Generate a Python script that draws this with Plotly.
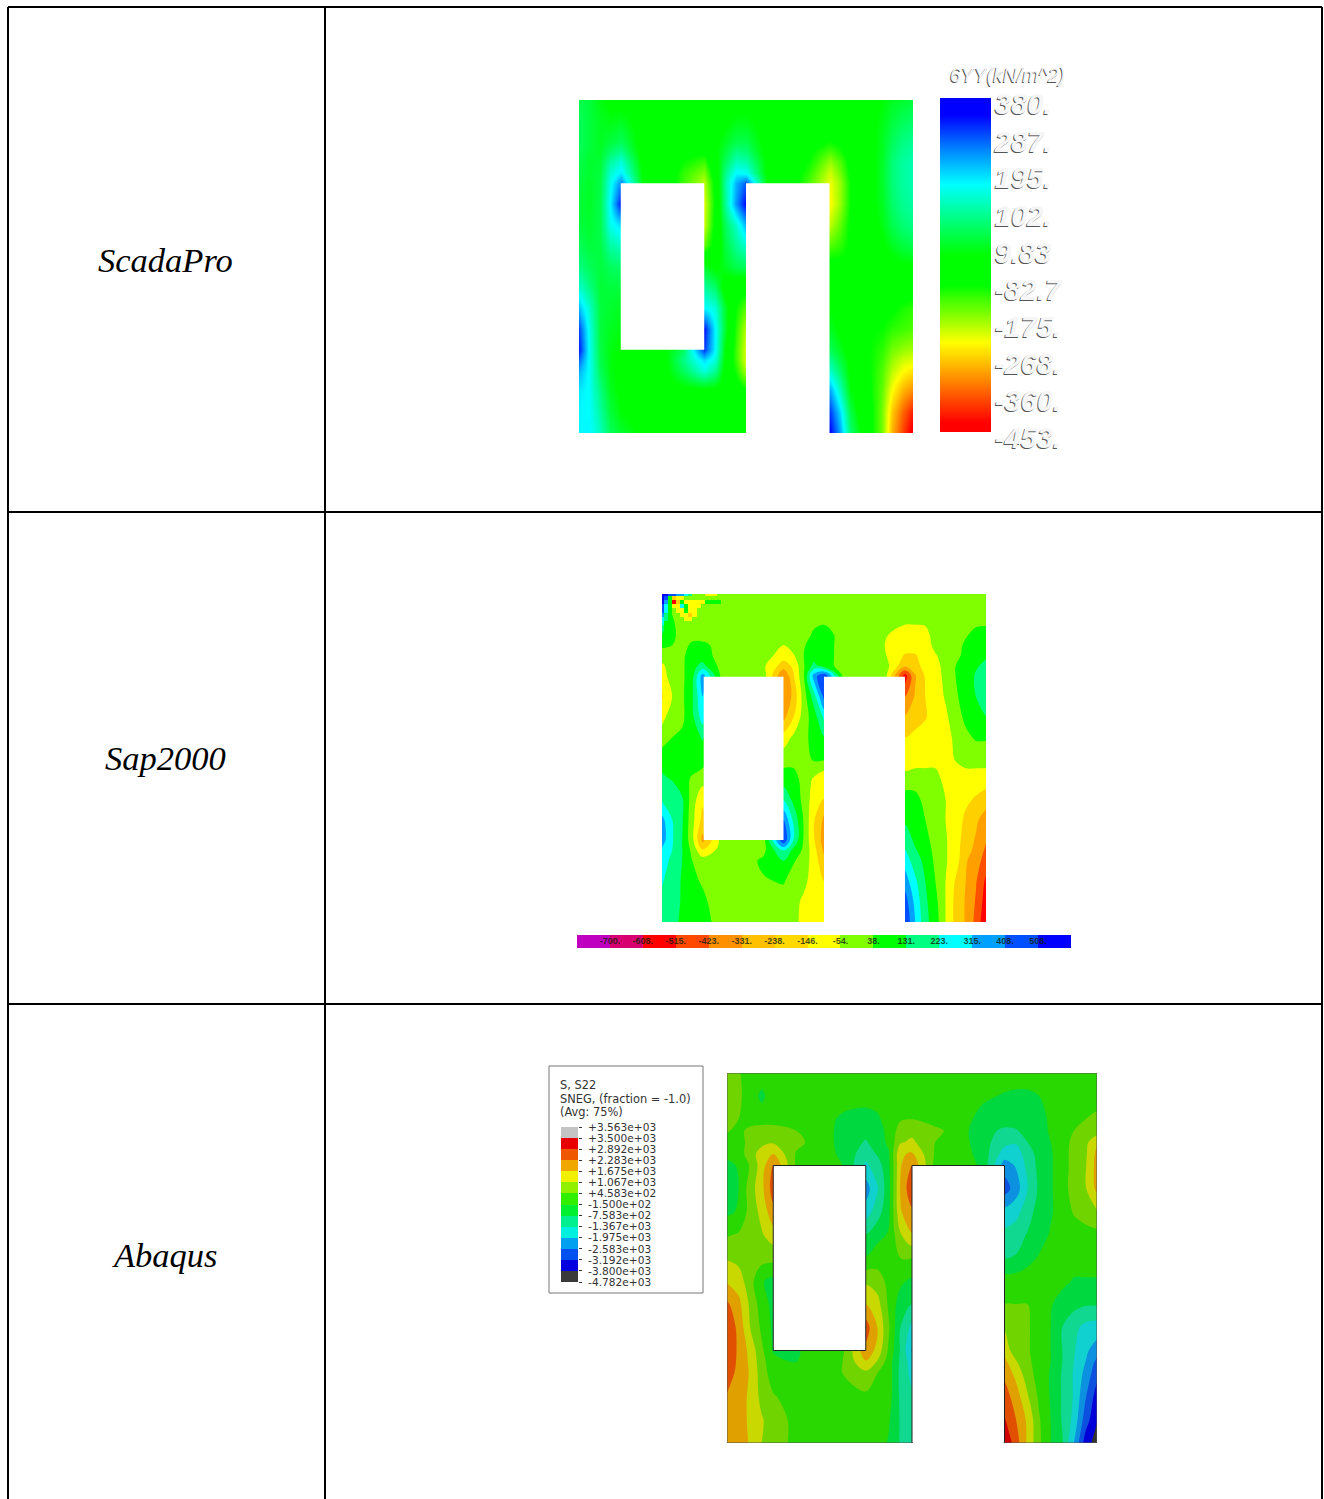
import plotly.graph_objects as go

W, H = 1324, 1499

# wall grid, in eighths of the wall width / height
GRID_U = [0,.25,.5,.75,1, 1.5,2,2.5, 3,3.25,3.5,3.75,4, 4.5,5,5.5, 6,6.25,6.5,6.75,7,7.25,7.5,7.75,8]
GRID_V = [0,.5,1,1.25,1.5,1.75,2,2.5,3,3.5,4,4.5,5,5.5,6,6.25,6.5,7,7.5,8]

ROW_NAMES = ["ScadaPro", "Sap2000", "Abaqus"]

# ---- ScadaPro: stress field, kN/m^2 ----
SCADA_Z = [
 [40,30,0,-20,-30, -30,-30,-30, -30,-30,-30,-30,-30, -30,-30,-30, -30,-40,-40,-30,-20,-10,10,20,30],
 [50,30,10,0,10, -30,-40,-40, -40,-30,-20,0,0, -30,-40,-40, -50,-50,-40,-30,-20,0,30,50,60],
 [50,30,10,30,50, -30,-40,-50, -50,-20,10,40,40, -30,-40,-60, -90,-80,-50,-30,-20,10,50,80,90],
 [45,25,15,60,90, -30,-40,-70, -80,-20,30,80,70, -30,-40,-80, -130,-100,-60,-30,-20,10,60,90,100],
 [40,20,25,100,140, -20,-40,-90, -120,-30,50,120,110, -20,-40,-90, -170,-130,-70,-30,-20,15,70,100,110],
 [35,20,30,130,180, -10,-40,-110, -160,-50,80,170,160, -20,-50,-110, -200,-150,-80,-40,-20,15,70,100,110],
 [30,15,35,150,250, 0,-40,-120, -190,-70,100,220,280, -10,-50,-130, -220,-170,-90,-40,-20,15,70,100,110],
 [25,15,40,170,330, -40,-40,-40, -210,-80,90,240,340, -40,-40,-40, -230,-170,-90,-40,-20,10,60,90,100],
 [30,20,40,150,190, -40,-40,-40, -200,-70,50,130,220, -40,-40,-40, -190,-140,-80,-40,-30,0,40,70,80],
 [50,30,35,100,120, -40,-40,-40, -140,-60,30,90,130, -40,-40,-40, -130,-110,-80,-50,-40,-20,10,30,40],
 [80,50,30,50,60, -40,-40,-40, 20,-20,10,40,50, -40,-40,-40, -60,-70,-70,-60,-50,-40,-30,-20,-20],
 [130,80,25,30,30, -40,-40,-40, 100,60,-40,-50,-70, -40,-40,-40, -30,-40,-60,-70,-60,-60,-50,-50,-60],
 [210,130,30,20,10, -40,-40,-40, 170,140,20,-90,-140, -40,-40,-40, -10,-30,-50,-70,-70,-70,-80,-100,-110],
 [290,150,30,10,0, -40,-40,-40, 330,170,20,-110,-190, -40,-40,-40, 10,-20,-50,-70,-80,-90,-110,-120,-130],
 [320,160,35,0,-20, -30,-20,50, 300,170,-10,-120,-210, -40,-40,-40, 50,10,-30,-70,-90,-110,-150,-170,-180],
 [270,160,40,0,-20, -30,-30,80, 190,140,-20,-120,-210, -40,-40,-40, 90,30,-20,-60,-90,-120,-170,-200,-210],
 [220,160,50,0,-20, -30,-30,50, 140,90,-30,-100,-180, -40,-40,-40, 130,60,-20,-60,-90,-130,-190,-230,-250],
 [180,160,80,10,-20, -30,-40,-30, -30,-30,-40,-60,-80, -40,-40,-40, 230,120,0,-50,-90,-140,-230,-290,-320],
 [170,165,100,30,-10, -30,-40,-40, -40,-40,-40,-40,-40, -40,-40,-40, 300,190,40,-40,-80,-150,-270,-350,-410],
 [170,170,120,50,20, -20,-40,-40, -40,-40,-40,-40,-40, -40,-40,-40, 340,230,70,-10,-80,-150,-290,-380,-453],
]
SCADA_TICKS = [380, 287, 195, 102, 9.83, -82.7, -175, -268, -360, -453]
SCADA_TICK_TEXT = ["380.", "287.", "195.", "102.", "9.83", "-82.7", "-175.", "-268.", "-360.", "-453."]
SCADA_BAR_LEVELS = [-453,-420,-380,-340,-300,-260,-228,-190,-150,-120,-86,-50,-11,40,90,130,166,220,280,330,368,380]
SCADA_TITLE = "6YY(kN/m^2)"
SCADA_SCALE = [[0,"#ff0000"],[.03,"#ff0000"],[.15,"#ff8000"],[.27,"#ffff00"],[.44,"#00ff00"],[.53,"#00ff00"],
               [.743,"#00ffff"],[.85,"#0080ff"],[.95,"#0000ff"],[1,"#0000ff"]]
SCADA_HOLES = [(1.0,3.0,2.0,6.0),(4.0,6.0,2.0,8.0)]

# ---- Sap2000: contour band index per grid node ----
SAP_Z = [
 [6,6,6,6,6, 6,6,6, 6,6,6,6,6, 6,6,6, 6,6,6,6,6,6,6,6,6],
 [3,5.5,6,6,6, 6,6,6, 6,6,6,6,6, 6,6,6, 6,6,6,6,6,6,6,6,6],
 [4.5,5.2,6,6,6, 6,6,6, 6,6,6,5.3,5, 6,6,6.4, 7,7,6.9,6,6,6,5.6,5.2,5.1],
 [5.3,5.5,6,5.2,5.2, 6,6,6, 6.5,6,5.6,5,5, 6,6,6.5, 7,7,7,6.2,6,5.9,5.3,5,5],
 [6,6,5.7,5,5, 6,6,6, 7,6.6,5.5,5,5, 6,6,6.4, 7.6,7.6,7,6.6,6,5.8,5.2,4.8,4.6],
 [6.7,6,5.7,4.8,4.2, 6,6,6.3, 8,7.3,5.6,4.2,5, 6,6,6, 8.3,8,7,7,6,5.5,5,4.6,4.3],
 [7,6,5.7,4.8,2, 6,6,6, 9.5,7.6,5.6,2,.5, 6,6,6, 11,8.6,7.4,7,6.2,5.5,5,4.4,3.9],
 [7.6,6.5,5.7,4.6,2.5, 6,6,6, 9.5,8.2,6,4,1.2, 6,6,6, 9.5,8.4,7.5,7,6.4,5.6,5.2,4.5,4],
 [6.8,6,5.7,4.7,3, 6,6,6, 8.8,7.5,6,5,3.3, 6,6,6, 8.4,8,7.6,7,6.7,5.9,5.3,5,4.5],
 [6,5.5,5.3,5,4.4, 6,6,6, 7,6.3,5.9,5,4.6, 6,6,6, 7.5,7.2,7,7,7,6.2,5.7,5.4,5.4],
 [5,5,5,5,5, 6,6,6, 6,6,6,5.3,5.3, 6,6,6, 7,7,7,7,7,6.4,6,6,6],
 [4.3,4.6,5.2,5.6,6, 6,6,6, 5,5,6,6.6,7.2, 6,6,6, 6.2,6,6,6,7,7,7,7,7],
 [3.7,3.7,4.4,6,7.3, 6,6,6, 3.7,4.8,5.8,7,7.5, 6,6,6, 5,5.2,5.8,6,6.5,7,7.3,7.6,8],
 [2.2,3.5,4.4,6.2,7.8, 6,6,6, 1.5,3.8,5.6,7.4,8.7, 6,6,6, 4.7,5,5.5,6,6.5,7,7.7,8.3,9],
 [2,3.4,4.5,6.2,8.8, 6,6,6, .5,3.6,5.6,7.4,9, 6,6,6, 3.9,4.7,5.2,5.9,6.4,7,8,8.6,9.4],
 [2.7,3.5,4.5,5.8,7.4, 6,6,5.8, 3.4,4.8,5.7,7.1,8.7, 6,6,6, 3.5,4.4,5,5.8,6.4,7,8.2,8.7,9.7],
 [3.1,3.7,4.5,5.5,6, 6,6,5.3, 4.4,5.4,5.9,7,8.2, 6,6,6, 3,4,4.8,5.7,6.4,7,8.4,9,10],
 [3.4,4,4.6,5.3,5.6, 6,6,5.6, 5.4,6,6.1,7.2,7.5, 6,6,6, 2,3.3,4.5,5.5,6.5,7.6,8.5,9.4,10.7],
 [3.8,4.1,4.6,5.1,5.3, 6.1,6,6, 6,6,6.8,7,7, 6,6,6, 1,2.8,4.3,5.2,6.5,7.8,8.6,9.6,11],
 [4,4.2,4.7,5,5.1, 6,6,6, 6,6,7,7,7, 6,6,6, .5,2.5,4.2,5,6.5,7.8,8.6,9.8,11.3],
]
# top-left corner spray of the Sap2000 field (band index; None = the field below shows through)
N = None
SAP_CORNER_U = [0,.1,.2,.3,.4,.5,.6,.7,.8,.9,1,1.1,1.2,1.3,1.4,1.5]
SAP_CORNER_V = [0,.1,.2,.3,.4,.5,.6,.7,.8]
SAP_CORNER_Z = [
 [0,0,1,1,2,2,3,4,N,N,N,7,7,7,N,N],
 [0,1,5,8,7,7,N,N,N,N,N,N,N,N,N,N],
 [0,2,5,11,8,5,7,7,7,7,7,5,5,5,5,N],
 [1,3,5,7,7,3,5,7,7,7,N,N,N,N,N,N],
 [1,3,5,N,7,7,5,7,7,N,N,N,N,N,N,N],
 [2,4,5,N,N,7,7,8,7,N,N,N,N,N,N,N],
 [3,4,5,N,N,N,7,7,N,N,N,N,N,N,N,N],
 [3,5,5,N,N,N,N,N,N,N,N,N,N,N,N,N],
 [4,5,N,N,N,N,N,N,N,N,N,N,N,N,N,N],
]
SAP_BANDS = ["#0000ff","#0050ff","#00a0ff","#00ffff","#00ff80","#00ff00","#80ff00","#ffff00","#ffd000","#ffa000","#ff5000","#ff0000"]
SAP_BAR_COLORS = ["#c000c0","#d80070","#ff0000","#ff4800","#ff9000","#ffc000","#ffd800","#ffff00","#80ff00","#00ff00",
                  "#00ff80","#00ffff","#00a0ff","#0050ff","#0000ff"]
SAP_BAR_TEXT = ["-700.","-608.","-515.","-423.","-331.","-238.","-146.","-54.","38.","131.","223.","315.","408.","508."]
SAP_HOLES = [(1.03,3.0,2.02,6.0),(4.0,6.0,2.02,8.0)]

# ---- Abaqus: contour band index per grid node ----
ABAQUS_Z = [
 [8.6,7.6,7,7,7, 7,7,7, 7,7,7,7,7, 7,7,7, 7,7,7,7,7,7,7,7,7],
 [8,7.7,7,6.3,7, 7,7,7, 7,7,7,7,7, 7,7,6.7, 6.4,6.3,6.3,6.5,7,7,7,7,7],
 [8,7.5,7,7,7, 7,7,6.3, 6,6.3,7,7.4,7.5, 7,7,6.2, 6,6,6,6.3,6.6,7,7,7.5,7.8],
 [7.6,7.2,7.8,8,8, 7.5,7,6.2, 5.8,6.2,6.7,8,8.2, 7.8,7,5.9, 5.3,5.4,5.9,6.2,6.6,7,7.5,8,8],
 [7,7,7.9,8.2,8.4, 7.8,7,6.2, 5.4,6,6.7,8.4,8.7, 7.5,7,6, 4.8,4.6,5.5,6.1,6.5,7,7.8,8.2,9.4],
 [6.8,7,8,9,9.5, 7.4,7,6.3, 4.9,5.6,6.4,9.4,9.6, 7.4,7,6.2, 4,4,5,5.9,6.4,7,7.9,8.3,9.8],
 [6.2,6.6,7.6,9,10.6, 7.3,7,6.5, 4.3,5,6.3,9.4,10.5, 7.2,7,6.4, 3,3.6,4.8,5.8,6.4,7,7.9,8.4,9.9],
 [6.2,6.5,8,9.2,11, 7,7,7, 3,4.4,6.2,9.6,11.3, 7,7,7, 2,3,4.5,5.7,6.4,7,8,8.4,9.8],
 [6.3,6.6,7.9,8.8,10.2, 7,7,7, 4,5,6.3,9.4,10.3, 7,7,7, 3.9,4.2,5,6,6.4,6.9,7.6,8,8.4],
 [7.4,7.6,7.8,8.4,9, 7,7,7, 5.6,6.2,6.6,8.4,9.4, 7,7,7, 4.8,5,5.6,6.1,6.6,7,7,7.1,7.2],
 [8.4,8.2,8,7.9,7.8, 7,7,7, 6.6,7,7,7.5,7.5, 7,7,7, 5.5,5.6,6.2,6.6,7,7,7,7,7],
 [9.4,9,7.9,6.6,6.2, 7,7,7, 8.3,8,7.2,6.7,6.3, 7,7,7, 7,7,7,7,7,6.8,6.4,6.4,6.4],
 [10.7,9.8,8.3,7,6.2, 7,7,7, 9.5,8.9,7.3,6,5.5, 7,7,7, 7.5,7.5,7.5,7,6.6,6,5.8,5.6,5.6],
 [11.4,10.2,8.5,7.3,6.3, 7,7,7, 11,9.5,7.6,5.5,4.2, 7,7,7, 8.4,7.9,7.6,7.1,6.5,5.5,4.8,4.2,4],
 [11.4,10.3,9.2,7.7,6.4, 6.4,7,7.3, 10.2,9.2,7.3,5.4,3.4, 7,7,7, 9,8,7.6,7.1,6.5,5.5,4.6,3.7,3],
 [11.2,10.3,9.3,7.9,6.8, 6.5,7,7.5, 9.4,8.4,7,5.3,4, 7,7,7, 9.8,8.6,7.7,7.1,6.5,5.5,4.5,3.5,2.2],
 [11,10.2,9.4,8,7, 6.6,7,7.5, 8.2,7.5,7,5.2,4.2, 7,7,7, 10.2,9.2,7.9,7.1,6.4,5.4,4.4,3.2,1.8],
 [10.4,10,9.3,8.2,7.6, 7,7,7, 7.3,7,6.9,5.3,4.7, 7,7,7, 11,10,8.6,7.3,6.4,5.4,4.4,2.6,1],
 [10.3,10,9.3,8.6,8, 7.2,7,7, 7,7,6.6,5.4,5, 7,7,7, 11.6,10.5,9.3,7.6,6.5,5.4,4.2,2,.6],
 [10.3,10,9.4,8.5,8, 7.2,7,7, 7,7,6.4,5.4,5, 7,7,7, 12.4,11,9.3,7.7,6.5,5.6,3.5,1,0],
]
ABAQUS_BANDS = ["#333333","#0000d8","#0c50e0","#0c90e0","#10d0d0","#10d890","#00d840","#28d800","#70d400","#c8d800",
                "#e0a000","#e05000","#d00000","#bbbbbb"]
ABAQUS_LEGEND_COLORS = ["#3a3a3a","#0000e0","#0050f0","#00a0f0","#00f0e0","#00f090","#00f030","#30f000","#90f000","#f0f000",
                        "#f0a800","#f05800","#e80000","#c4c4c4"]
ABAQUS_LEGEND_TEXT = ["+3.563e+03","+3.500e+03","+2.892e+03","+2.283e+03","+1.675e+03","+1.067e+03","+4.583e+02",
                      "-1.500e+02","-7.583e+02","-1.367e+03","-1.975e+03","-2.583e+03","-3.192e+03","-3.800e+03","-4.782e+03"]
ABAQUS_LEGEND_HEAD = ["S, S22", "SNEG, (fraction = -1.0)", "(Avg: 75%)"]
ABAQUS_HOLES = [(1.0,3.0,2.0,6.0),(4.0,6.0,2.0,8.0)]

for grid in (SCADA_Z, SAP_Z, ABAQUS_Z):
    assert len(grid) == len(GRID_V) and all(len(r) == len(GRID_U) for r in grid)


def even_scale(colors):
    n = len(colors) - 1
    return [[i / n, c] for i, c in enumerate(colors)]


def dom_x(a, b):
    return [a / W, b / W]


def dom_y(a, b):
    return [1 - b / H, 1 - a / H]


fig = go.Figure()
layout = dict(
    template="none",
    width=W, height=H, margin=dict(l=0, r=0, t=0, b=0, pad=0), autosize=False,
    paper_bgcolor="white", plot_bgcolor="rgba(0,0,0,0)", showlegend=False,
)
shapes, annotations = [], []
_n = [1]


def new_axes(xd, yd, xr, yr, **yextra):
    """Register an axis pair positioned by pixel box; returns axis ids."""
    _n[0] += 1
    k = _n[0]
    common = dict(showgrid=False, zeroline=False, showticklabels=False, ticks="", showline=False, fixedrange=True,
                  automargin=False)
    layout[f"xaxis{k}"] = dict(domain=dom_x(*xd), range=list(xr), anchor=f"y{k}", **common)
    yopts = dict(common)
    yopts.update(yextra)
    layout[f"yaxis{k}"] = dict(domain=dom_y(*yd), range=list(yr), anchor=f"x{k}", **yopts)
    return f"x{k}", f"y{k}"


def holes(xa, ya, boxes, line=None):
    for x0, x1, y0, y1 in boxes:
        shapes.append(dict(type="rect", xref=xa, yref=ya, x0=x0, x1=x1, y0=y0, y1=y1,
                           fillcolor="white", line=line or dict(width=0), layer="above"))


# ---- table frame ----
FRAME_X = [8, 325, 1322]
FRAME_Y = [7, 512, 1004]
for x in FRAME_X:
    shapes.append(dict(type="line", xref="paper", yref="paper", x0=x / W, x1=x / W, y0=0, y1=1 - FRAME_Y[0] / H,
                       line=dict(color="black", width=2)))
for y in FRAME_Y:
    shapes.append(dict(type="line", xref="paper", yref="paper", x0=FRAME_X[0] / W, x1=FRAME_X[2] / W,
                       y0=1 - y / H, y1=1 - y / H, line=dict(color="black", width=2)))
ROW_LABEL_Y = [260, 758, 1255]
for name, y in zip(ROW_NAMES, ROW_LABEL_Y):
    annotations.append(dict(text=name, xref="paper", yref="paper", x=165 / W, y=1 - y / H, showarrow=False,
                            xanchor="center", yanchor="middle",
                            font=dict(family="Liberation Serif", size=34.5, color="black", style="italic")))

# ---- ScadaPro field ----
xa, ya = new_axes((579, 913), (100, 433), (0, 8), (8, 0))
fig.add_trace(go.Heatmap(x=GRID_U, y=GRID_V, z=SCADA_Z, zmin=-453, zmax=380, zsmooth="best", colorscale=SCADA_SCALE,
                         showscale=False, hoverinfo="skip", xaxis=xa, yaxis=ya))
holes(xa, ya, SCADA_HOLES)

xa, ya = new_axes((940, 991), (98, 432), (0, 1), (-453, 380))
fig.add_trace(go.Heatmap(x=[0, 1], y=SCADA_BAR_LEVELS, z=[[v, v] for v in SCADA_BAR_LEVELS], zmin=-453, zmax=380,
                         zsmooth="best", colorscale=SCADA_SCALE, showscale=False, hoverinfo="skip", xaxis=xa, yaxis=ya))
xa, ya = new_axes((995, 1075), (107, 441), (0, 1), (-453, 380))
fig.add_trace(go.Scatter(x=[0] * len(SCADA_TICKS), y=SCADA_TICKS, text=SCADA_TICK_TEXT, mode="text",
                         textposition="middle right", hoverinfo="skip", xaxis=xa, yaxis=ya, cliponaxis=False,
                         textfont=dict(family="Liberation Sans", size=29, color="#f6f6f6", style="italic", weight="bold",
                                       shadow="-1px 1px 0px #555555")))
annotations.append(dict(text=SCADA_TITLE, xref="paper", yref="paper", x=1007 / W, y=1 - 75 / H, showarrow=False,
                        xanchor="center", yanchor="middle",
                        font=dict(family="Liberation Sans", size=19.5, color="#f6f6f6", style="italic",
                                  shadow="-1px 1px 0px #555555")))

# ---- Sap2000 field ----
xa, ya = new_axes((662, 986), (594, 922), (0, 8), (8, 0))
fig.add_trace(go.Contour(x=GRID_U, y=GRID_V, z=SAP_Z, autocontour=False,
                         contours=dict(coloring="fill", start=.5, end=10.5, size=1),
                         line=dict(width=0), colorscale=even_scale(SAP_BANDS), showscale=False,
                         hoverinfo="skip", xaxis=xa, yaxis=ya))
holes(xa, ya, SAP_HOLES)
# the spray gets its own axes on the same box, so that it is painted over the contour fill
xa, ya = new_axes((662, 986), (594, 922), (0, 8), (8, 0))
fig.add_trace(go.Heatmap(x=SAP_CORNER_U, y=SAP_CORNER_V, z=SAP_CORNER_Z, zmin=0, zmax=11, hoverongaps=False,
                         colorscale=even_scale(SAP_BANDS), showscale=False, hoverinfo="skip", xaxis=xa, yaxis=ya))

xa, ya = new_axes((577, 1071), (935, 948), (0, len(SAP_BAR_COLORS)), (0, 1))
bar_idx = list(range(len(SAP_BAR_COLORS)))
fig.add_trace(go.Heatmap(x=[i + .5 for i in bar_idx], y=[.5], z=[bar_idx], zmin=0, zmax=len(bar_idx) - 1,
                         colorscale=even_scale(SAP_BAR_COLORS), showscale=False, hoverinfo="skip", xaxis=xa, yaxis=ya))
fig.add_trace(go.Scatter(x=[i + 1 for i in range(len(SAP_BAR_TEXT))], y=[.5] * len(SAP_BAR_TEXT), text=SAP_BAR_TEXT,
                         mode="text", textposition="middle center", hoverinfo="skip", xaxis=xa, yaxis=ya,
                         textfont=dict(family="Liberation Sans", size=9, color="rgba(20,30,10,0.8)", weight="bold")))

# ---- Abaqus field ----
xa, ya = new_axes((727, 1097), (1073, 1443), (0, 8), (8, 0))
fig.add_trace(go.Contour(x=GRID_U, y=GRID_V, z=ABAQUS_Z, autocontour=False,
                         contours=dict(coloring="fill", start=.5, end=12.5, size=1),
                         line=dict(width=0), colorscale=even_scale(ABAQUS_BANDS), showscale=False,
                         hoverinfo="skip", xaxis=xa, yaxis=ya))
holes(xa, ya, ABAQUS_HOLES, line=dict(color="#222222", width=1))
shapes.append(dict(type="rect", xref=xa, yref=ya, x0=0, x1=8, y0=0, y1=8, line=dict(color="#555555", width=1),
                   fillcolor="rgba(0,0,0,0)", layer="above"))
# the bottom notch stays open: white over the border below the second opening
shapes.append(dict(type="rect", xref=xa, yref=ya, x0=4.02, x1=5.98, y0=7.9, y1=8.05, fillcolor="white",
                   line=dict(width=0), layer="above"))

# ---- Abaqus legend ----
shapes.append(dict(type="rect", xref="paper", yref="paper", x0=549 / W, x1=703 / W, y0=1 - 1293 / H, y1=1 - 1066 / H,
                   fillcolor="white", line=dict(color="#777777", width=1), layer="below"))
for text, y in zip(ABAQUS_LEGEND_HEAD, (1085, 1099, 1112)):
    annotations.append(dict(text=text, xref="paper", yref="paper", x=558 / W, y=1 - y / H, showarrow=False,
                            xanchor="left", yanchor="middle",
                            font=dict(family="DejaVu Sans", size=11.4, color="#333333")))
n_bands = len(ABAQUS_LEGEND_COLORS)
xa, ya = new_axes((561, 578), (1127, 1282), (0, 1), (0, n_bands),
                  side="right", ticks="outside", ticklen=3, tickwidth=1, tickcolor="#333333", showticklabels=True,
                  ticklabelstandoff=4,
                  tickmode="array", tickvals=list(range(n_bands, -1, -1)), ticktext=ABAQUS_LEGEND_TEXT,
                  tickfont=dict(family="DejaVu Sans", size=10.6, color="#333333"))
leg_idx = list(range(n_bands))
fig.add_trace(go.Heatmap(x=[.5], y=[i + .5 for i in leg_idx], z=[[i] for i in leg_idx], zmin=0, zmax=n_bands - 1,
                         colorscale=even_scale(ABAQUS_LEGEND_COLORS), showscale=False, hoverinfo="skip",
                         xaxis=xa, yaxis=ya))

layout["shapes"] = shapes
layout["annotations"] = annotations
layout["xaxis"] = dict(visible=False, range=[0, 1], domain=[0, 1], automargin=False)
layout["yaxis"] = dict(visible=False, range=[0, 1], domain=[0, 1], automargin=False)
fig.update_layout(**layout)

fig.write_html("out.html", config=dict(displayModeBar=False),
               post_script="document.body.style.margin='0';document.documentElement.style.margin='0';")
